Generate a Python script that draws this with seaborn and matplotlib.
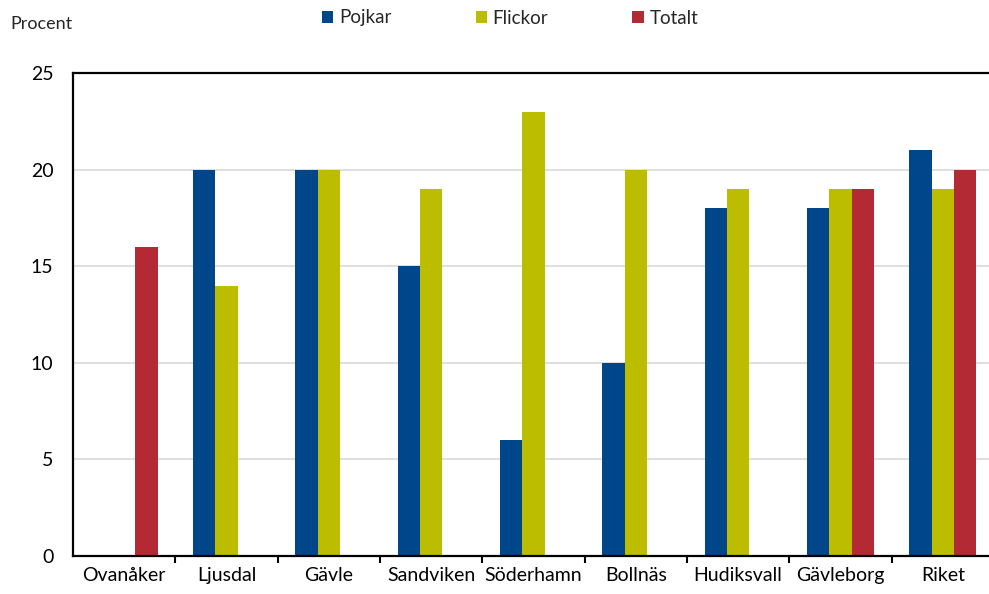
import matplotlib
matplotlib.use("Agg")
import matplotlib.pyplot as plt
import seaborn as sns
import numpy as np
import pandas as pd
from matplotlib.patches import Patch
from matplotlib.ticker import FixedLocator

categories = ["Ovanåker", "Ljusdal", "Gävle", "Sandviken", "Söderhamn",
              "Bollnäs", "Hudiksvall", "Gävleborg", "Riket"]
pojkar = [np.nan, 20, 20, 15, 6, 10, 18, 18, 21]
flickor = [np.nan, 14, 20, 19, 23, 20, 19, 19, 19]
totalt = [16, np.nan, np.nan, np.nan, np.nan, np.nan, np.nan, 19, 20]
series = ["Pojkar", "Flickor", "Totalt"]
colors = ["#00468B", "#BDBD00", "#B42A34"]
yticks = [0, 5, 10, 15, 20, 25]

rows = []
for name, vals in zip(series, [pojkar, flickor, totalt]):
    for c, v in zip(categories, vals):
        rows.append({"Kommun": c, "Grupp": name, "Procent": v})
df = pd.DataFrame(rows)

sns.set_style("white")
plt.rcParams["font.family"] = ["Lato", "DejaVu Sans"]

W, H = 989, 594
fig = plt.figure(figsize=(W / 100, H / 100), dpi=100)
left, right = 73, 994
top, bottom = 73, 556
ax = fig.add_axes([left / W, 1 - bottom / H, (right - left) / W, (bottom - top) / H])

sns.barplot(data=df, x="Kommun", y="Procent", hue="Grupp", order=categories,
            hue_order=series, palette=colors, width=0.654, gap=0,
            saturation=1, errorbar=None, ax=ax, legend=False, linewidth=0)

ax.set_ylim(0, 25)
ax.set_xlim(-0.5, len(categories) - 0.5)
ax.set_yticks(yticks)
ax.set_yticklabels([str(t) for t in yticks])
ax.yaxis.grid(True, color="#D9D9D9", linewidth=1.2)
ax.set_axisbelow(True)
ax.set_xlabel("")
ax.set_ylabel("")

for s in ["left", "top", "bottom"]:
    ax.spines[s].set_visible(True)
    ax.spines[s].set_color("black")
    ax.spines[s].set_linewidth(1.6)
ax.spines["right"].set_visible(False)

ax.tick_params(axis="y", length=0, pad=14, labelsize=14, colors="black")
ax.tick_params(axis="x", which="major", length=0, pad=8, labelsize=14, colors="black")
ax.xaxis.set_minor_locator(FixedLocator(np.arange(0.5, len(categories) - 0.5, 1.0)))
ax.tick_params(axis="x", which="minor", length=5, width=1.5, direction="out",
               color="black", bottom=True)

fig.text(10 / W, 1 - 24 / H, "Procent", fontsize=13, va="center", ha="left")

handles = [Patch(facecolor=c, edgecolor="none") for c in colors]
fig.legend(handles, series, loc="center", bbox_to_anchor=(510 / W, 1 - 18 / H),
           ncol=3, frameon=False, fontsize=13.5, handlelength=0.6, handleheight=0.6,
           handletextpad=0.3, columnspacing=4.5, borderaxespad=0)

fig.savefig("out.png", dpi=100)
